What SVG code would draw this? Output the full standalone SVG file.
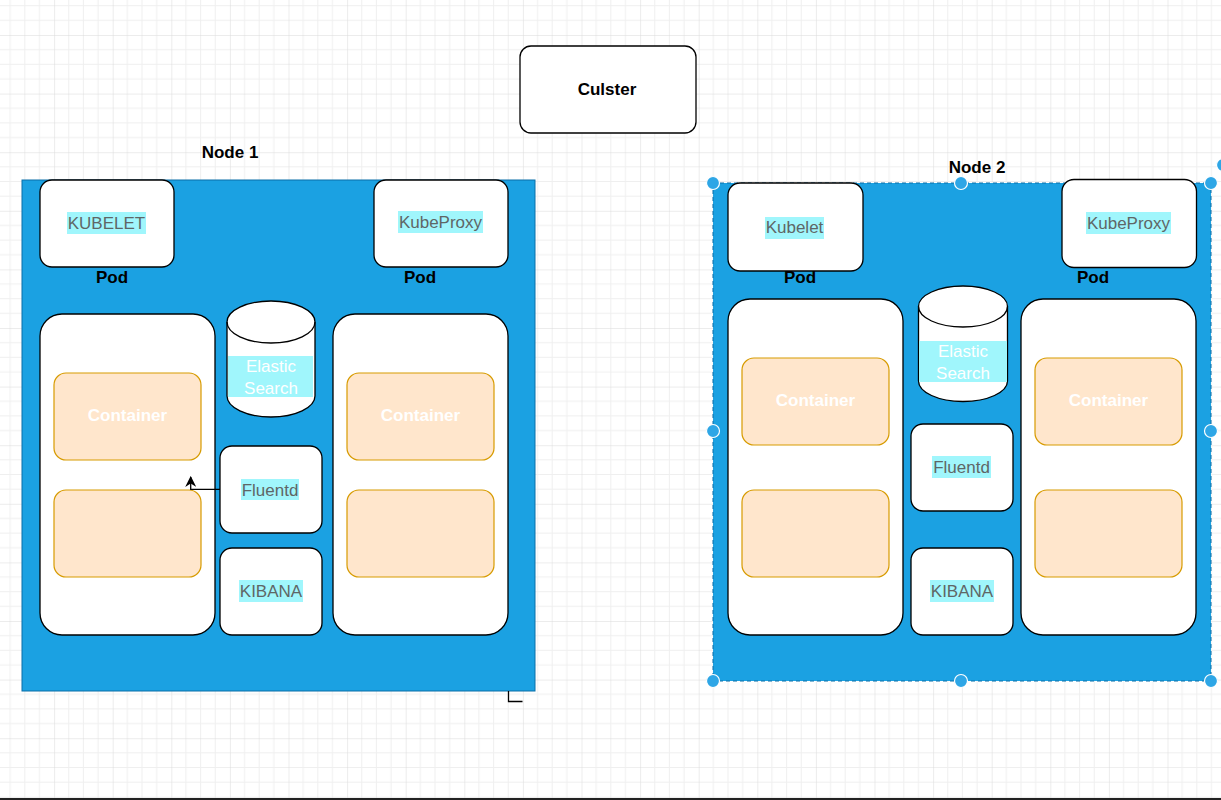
<svg xmlns="http://www.w3.org/2000/svg" width="1221" height="800" viewBox="0 0 1221 800">
<defs>
<pattern id="grid" x="54.1" y="35" width="58.6" height="58.6" patternUnits="userSpaceOnUse">
<path d="M14.65 0V58.6M29.3 0V58.6M43.95 0V58.6M0 14.65H58.6M0 29.3H58.6M0 43.95H58.6" stroke="#efefef" stroke-width="1" fill="none"/>
<path d="M0 0V58.6M0 0H58.6" stroke="#dadada" stroke-width="1" fill="none"/>
</pattern>
<marker id="arr" viewBox="0 0 10 10" refX="9" refY="5" markerWidth="11" markerHeight="11" markerUnits="userSpaceOnUse" orient="auto">
<path d="M0 0L10 5L0 10L3 5Z" fill="#000"/>
</marker>
</defs>
<style>
.box{fill:#fff;stroke:#000;stroke-width:1.3}
.node{fill:#1ba1e2;stroke:#0a6fa8;stroke-width:1}
.cont{fill:#ffe6cc;stroke:#d79b00;stroke-width:1.2}
.lbl{font-family:"Liberation Sans",Arial,sans-serif;font-size:17px;fill:#5f6666;text-anchor:middle}
.wl{font-family:"Liberation Sans",Arial,sans-serif;font-size:17px;fill:#fff;text-anchor:middle}
.b{font-family:"Liberation Sans",Arial,sans-serif;font-size:17px;font-weight:bold;fill:#000;text-anchor:middle}
.cw{font-family:"Liberation Sans",Arial,sans-serif;font-size:17px;font-weight:bold;fill:#fff;text-anchor:middle}
.hl{fill:#a0f6fc}
.h{fill:#2ea6e6;stroke:#fff;stroke-width:1.2}
</style>
<rect width="1221" height="800" fill="#fff"/>
<rect width="1221" height="800" fill="url(#grid)"/>
<rect x="0" y="798" width="1221" height="2" fill="#222"/>

<g id="cluster">
<rect class="box" x="520" y="46" width="176" height="87" rx="11"/>
<text class="b" x="607" y="95">Culster</text>
</g>

<g id="node1">
<text class="b" x="230" y="158">Node 1</text>
<rect class="node" x="22" y="180" width="513" height="511"/>
</g>
<g id="kubelet1">
<rect class="box" x="40" y="180" width="134" height="87" rx="12"/>
<rect class="hl" x="67" y="212" width="79" height="22"/>
<text class="lbl" x="106.5" y="228.5">KUBELET</text>
</g>
<g id="kubeproxy1">
<rect class="box" x="374" y="180" width="134" height="87" rx="12"/>
<rect class="hl" x="398" y="211" width="85" height="22"/>
<text class="lbl" x="440.5" y="228">KubeProxy</text>
</g>
<g id="pod1-label"><text class="b" x="112" y="283">Pod</text></g>
<g id="pod2-label"><text class="b" x="420" y="283">Pod</text></g>
<g id="pod1">
<rect class="box" x="40" y="314" width="175" height="321" rx="22"/>
<rect class="cont" x="54" y="373" width="147" height="87" rx="12"/>
<text class="cw" x="127.5" y="421">Container</text>
<rect class="cont" x="54" y="490" width="147" height="87" rx="12"/>
</g>
<g id="pod2">
<rect class="box" x="333" y="314" width="175" height="321" rx="22"/>
<rect class="cont" x="347" y="373" width="147" height="87" rx="12"/>
<text class="cw" x="420.5" y="421">Container</text>
<rect class="cont" x="347" y="490" width="147" height="87" rx="12"/>
</g>
<g id="elastic1">
<path class="box" d="M227 322A44 21 0 0 1 315 322V396A44 21 0 0 1 227 396Z"/>
<path d="M227 322A44 21 0 0 0 315 322" fill="none" stroke="#000" stroke-width="1.3"/>
<rect class="hl" x="228" y="356" width="85" height="41"/>
<text class="wl" x="271" y="372">Elastic</text>
<text class="wl" x="271" y="394">Search</text>
</g>
<g id="fluentd1">
<rect class="box" x="220" y="446" width="102" height="87" rx="12"/>
<rect class="hl" x="241" y="479" width="58" height="21"/>
<text class="lbl" x="270" y="496">Fluentd</text>
</g>
<g id="kibana1">
<rect class="box" x="220" y="548" width="102" height="87" rx="12"/>
<rect class="hl" x="239" y="580" width="64" height="22"/>
<text class="lbl" x="271" y="597">KIBANA</text>
</g>

<g id="node2">
<text class="b" x="977" y="173">Node 2</text>
<rect class="node" x="713" y="183" width="498" height="498" stroke-dasharray="4 3" stroke="#0b5f8f"/>
</g>
<g id="kubelet2">
<rect class="box" x="728" y="183" width="135" height="88" rx="12"/>
<rect class="hl" x="765" y="217" width="59" height="22"/>
<text class="lbl" x="794.5" y="233">Kubelet</text>
</g>
<g id="kubeproxy2">
<rect class="box" x="1062" y="179.5" width="134.5" height="88" rx="12"/>
<rect class="hl" x="1086" y="212" width="85" height="22"/>
<text class="lbl" x="1128.5" y="229">KubeProxy</text>
</g>
<g id="pod3-label"><text class="b" x="800" y="283">Pod</text></g>
<g id="pod4-label"><text class="b" x="1093" y="283">Pod</text></g>
<g id="pod3">
<rect class="box" x="728" y="299" width="175" height="336" rx="22"/>
<rect class="cont" x="742" y="358" width="147" height="87" rx="12"/>
<text class="cw" x="815.5" y="406">Container</text>
<rect class="cont" x="742" y="490" width="147" height="87" rx="12"/>
</g>
<g id="pod4">
<rect class="box" x="1021" y="299" width="175" height="336" rx="22"/>
<rect class="cont" x="1035" y="358" width="147" height="87" rx="12"/>
<text class="cw" x="1108.5" y="406">Container</text>
<rect class="cont" x="1035" y="490" width="147" height="87" rx="12"/>
</g>
<g id="elastic2">
<path class="box" d="M918.5 306.5A44.5 20.5 0 0 1 1007.5 306.5V381A44.5 20.5 0 0 1 918.5 381Z"/>
<path d="M918.5 306.5A44.5 20.5 0 0 0 1007.5 306.5" fill="none" stroke="#000" stroke-width="1.3"/>
<rect class="hl" x="919" y="341" width="88" height="41"/>
<text class="wl" x="963" y="357">Elastic</text>
<text class="wl" x="963" y="379">Search</text>
</g>
<g id="fluentd2">
<rect class="box" x="911" y="424" width="102" height="87" rx="12"/>
<rect class="hl" x="932" y="456" width="59" height="22"/>
<text class="lbl" x="961.5" y="473">Fluentd</text>
</g>
<g id="kibana2">
<rect class="box" x="911" y="548" width="102" height="87" rx="12"/>
<rect class="hl" x="930" y="580" width="64" height="22"/>
<text class="lbl" x="962" y="597">KIBANA</text>
</g>
<g id="handles">
<circle class="h" cx="713" cy="183" r="6.5"/>
<circle class="h" cx="961" cy="183" r="6.5"/>
<circle class="h" cx="1211" cy="183" r="6.5"/>
<circle class="h" cx="713" cy="431" r="6.5"/>
<circle class="h" cx="1211" cy="431" r="6.5"/>
<circle class="h" cx="713" cy="681" r="6.5"/>
<circle class="h" cx="961" cy="681" r="6.5"/>
<circle class="h" cx="1211" cy="681" r="6.5"/>
<circle class="h" cx="1223" cy="165" r="6.5"/>
</g>

<g id="connectors">
<path d="M220 489.3H190.7V477" fill="none" stroke="#000" stroke-width="1.3" marker-end="url(#arr)"/>
<path d="M508.5 691V701.5H522.5" fill="none" stroke="#000" stroke-width="1.3"/>
</g>
</svg>
